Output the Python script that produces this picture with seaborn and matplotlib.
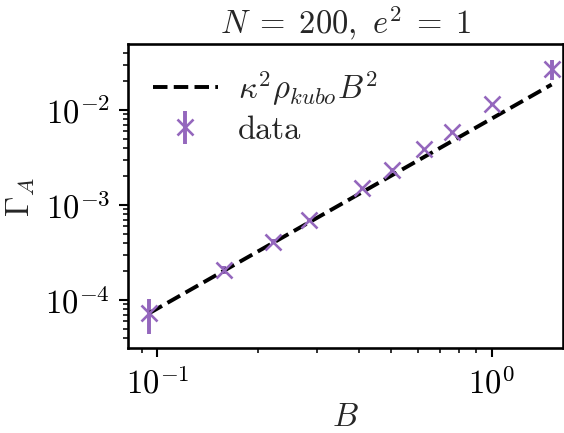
import numpy as np
import matplotlib
matplotlib.use('Agg')
import matplotlib.pyplot as plt
import seaborn as sns
import pandas as pd

# data
B = [0.0947, 0.158, 0.222, 0.285, 0.409, 0.502, 0.628, 0.763, 1.00, 1.51]
gamma_A = [7.35e-5, 2.07e-4, 4.11e-4, 6.96e-4, 1.50e-3, 2.34e-3, 3.86e-3, 5.82e-3, 1.148e-2, 2.73e-2]
gamma_err = [3.0e-5, 2.0e-5, 2.5e-5, 3.0e-5, 6.0e-5, 1.0e-4, 1.5e-4, 2.0e-4, 5.0e-4, 6.5e-3]
kappa2_rho_kubo = 8.12e-3

fs = 12.5

sns.set_theme(style='ticks')
plt.rcParams['font.family'] = ['serif']
plt.rcParams['font.serif'] = ['cmr10']
plt.rcParams['mathtext.fontset'] = 'cm'
plt.rcParams['axes.formatter.use_mathtext'] = True
plt.rcParams['font.size'] = fs
# back to plain matplotlib tick geometry
for a in ['xtick', 'ytick']:
    plt.rcParams[a + '.major.size'] = 3.5
    plt.rcParams[a + '.minor.size'] = 2.0
    plt.rcParams[a + '.major.width'] = 0.8
    plt.rcParams[a + '.minor.width'] = 0.6
    plt.rcParams[a + '.major.pad'] = 3.5
    plt.rcParams[a + '.minor.pad'] = 3.4
    plt.rcParams[a + '.color'] = 'black'

fig, ax = plt.subplots(figsize=(3.0, 433 / 188), dpi=188)
fig.subplots_adjust(left=0.2275, right=0.9988, bottom=0.1956, top=0.8977)

ax.errorbar(B, gamma_A, yerr=gamma_err, fmt='x', color='tab:purple',
            ms=6.5, mew=1.0, lw=1.5, label='data')

fit = pd.DataFrame({'B': B, 'fit': kappa2_rho_kubo * np.array(B) ** 2})
sns.lineplot(data=fit, x='B', y='fit', ax=ax, color='black', linestyle='--',
             lw=1.5, label=r'$\kappa^2\rho_{kubo}B^2$')

ax.set_xscale('log')
ax.set_yscale('log')
ax.set_xlim(0.08189, 1.637)
ax.set_ylim(3.1e-5, 0.04914)
ax.set_xlabel(r'$B$', fontsize=fs, labelpad=1.5)
ax.set_ylabel(r'$\Gamma_A$', fontsize=fs, labelpad=3)
ax.set_title(r'$N\;=\;200,\ e^2\;=\;1$', fontsize=fs, pad=4)
ax.tick_params(labelsize=fs)
for sp in ax.spines.values():
    sp.set_color('black')
    sp.set_linewidth(1.0)

ax.legend(loc='upper left', frameon=False, fontsize=fs,
          labelspacing=0.25, borderaxespad=0.35, handletextpad=0.6)

plt.savefig('out.png', dpi=188)
